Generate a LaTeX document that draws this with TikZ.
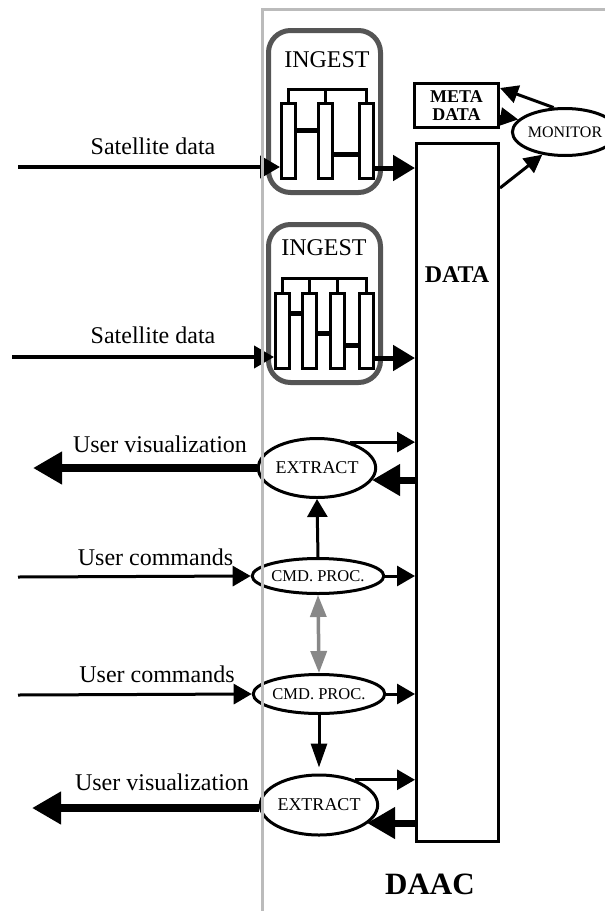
\documentclass[tikz,border=0pt]{standalone}
\usepackage{fontspec}
\setmainfont{Liberation Serif}
\usetikzlibrary{arrows.meta,shapes.geometric}
\definecolor{framegray}{HTML}{BBBBBB}
\definecolor{ingestgray}{HTML}{555555}
\definecolor{linkgray}{HTML}{888888}
\tikzset{
  ingestbox/.style={draw=ingestgray, line width=5pt, rounded corners=22pt, minimum width=112pt, inner sep=0pt},
  bar/.style={draw, line width=3pt, fill=white, minimum width=14pt, minimum height=75pt, inner sep=0pt},
  brk/.style={line width=3pt},
  cnx/.style={line width=5pt},
  bigtxt/.style={font=\fontsize{24}{28}\selectfont, inner sep=0pt, anchor=base},
  proc/.style={draw, ellipse, line width=3pt, inner sep=0pt},
  satarrow/.style={line width=4pt, -{Triangle[length=20pt,width=22pt]}},
  outarrow/.style={line width=5pt, -{Triangle[length=22pt,width=25pt]}},
  thinarrow/.style={line width=3pt, -{Triangle[length=18pt,width=20pt]}},
  backarrow/.style={line width=7pt, -{Triangle[length=28pt,width=30pt]}},
  vizarrow/.style={line width=8pt, -{Triangle[length=29pt,width=31pt]}},
  monarrow/.style={line width=3pt, -{Triangle[length=18pt,width=18pt]}},
  grayarrow/.style={draw=linkgray, line width=3.5pt, {Triangle[length=22pt,width=16pt]}-{Triangle[length=22pt,width=16pt]}},
}
\begin{document}
\begin{tikzpicture}[x=1pt,y=-1pt]
\useasboundingbox (0,0) rectangle (605,911);

% ---------- INGEST 1 ----------
\node[ingestbox, minimum height=162pt] (ing1) at (324.5,111.5) {};
\node[bigtxt] (ing1t) at (327,67) {INGEST};
\node[bar] (a1) at (288.5,141) {};
\node[bar] (a2) at (325.5,141) {};
\node[bar] (a3) at (366.5,141) {};
\draw[brk] (a1.north) -- (a1.north |- 0,89) -- (a3.north |- 0,89) -- (a3.north);
\draw[brk] (a2.north) -- (a2.north |- 0,89);
\draw[cnx] (a1.east |- 0,130) -- (a2.west |- 0,130);
\draw[cnx] (a2.east |- 0,154) -- (a3.west |- 0,154);

% ---------- INGEST 2 ----------
\node[ingestbox, minimum height=158pt] (ing2) at (324.5,303.5) {};
\node[bigtxt] (ing2t) at (324,255) {INGEST};
\node[bar] (b1) at (282.5,331) {};
\node[bar] (b2) at (309.5,331) {};
\node[bar] (b3) at (337.5,331) {};
\node[bar] (b4) at (366.5,331) {};
\draw[brk] (b1.north) -- (b1.north |- 0,278) -- (b4.north |- 0,278) -- (b4.north);
\draw[brk] (b2.north) -- (b2.north |- 0,278);
\draw[brk] (b3.north) -- (b3.north |- 0,278);
\draw[cnx] (b1.east |- 0,313) -- (b2.west |- 0,313);
\draw[cnx] (b2.east |- 0,333) -- (b3.west |- 0,333);
\draw[cnx] (b3.east |- 0,345) -- (b4.west |- 0,345);

% ---------- DATA / META / MONITOR ----------
\node[draw, line width=3pt, minimum width=82pt, minimum height=698pt, inner sep=0pt] (data) at (457.5,492.5) {};
\node[bigtxt, font=\fontsize{24}{28}\selectfont\bfseries] (datat) at (457,282) {DATA};
\node[draw, line width=3pt, minimum width=84pt, minimum height=44pt, inner sep=0pt, align=center,
      font=\fontsize{18}{18}\selectfont\bfseries] (meta) at (456.5,105.5) {META\\DATA};
\node[proc, minimum width=75pt, minimum height=47pt, font=\fontsize{16}{16}\selectfont] (mon) at (565,132) {MONITOR};
\draw[monarrow] (mon.115) -- ([yshift=-6pt]meta.north east);
\draw[monarrow] ([yshift=-11pt]meta.east) -- (mon.165);
\draw[monarrow] ([yshift=-46pt]data.north east) -- (mon.225);

% ---------- processes ----------
\node[proc, minimum width=97pt, minimum height=59pt, font=\fontsize{18}{18}\selectfont] (ext1) at (317,468) {EXTRACT};
\node[proc, minimum width=97pt, minimum height=35pt, font=\fontsize{16.5}{16.5}\selectfont] (cmd1) at (318,576) {CMD. PROC.};
\node[proc, minimum width=99pt, minimum height=39pt, font=\fontsize{16.5}{16.5}\selectfont] (cmd2) at (319,694) {CMD. PROC.};
\node[proc, minimum width=98pt, minimum height=60pt, font=\fontsize{18}{18}\selectfont] (ext2) at (319,805) {EXTRACT};

% ---------- outer labels ----------
\node[bigtxt] (sat1t) at (153,154) {Satellite data};
\node[bigtxt] (sat2t) at (153,343) {Satellite data};
\node[bigtxt] (viz1t) at (160,452) {User visualization};
\node[bigtxt] (cmd1t) at (155.5,565) {User commands};
\node[bigtxt] (cmd2t) at (157,682) {User commands};
\node[bigtxt] (viz2t) at (162,790) {User visualization};
\node[bigtxt, font=\fontsize{31}{34}\selectfont\bfseries] (daac) at (430,894) {DAAC};

% ---------- free ends ----------
\coordinate (s1) at (18,167);
\coordinate (s2) at (12,357);
\coordinate (v1) at (33,468);
\coordinate (u1) at (18,577);
\coordinate (u2) at (18,695);
\coordinate (v2) at (32,808);

% ---------- connectors ----------
\draw[satarrow] (s1) -- (a1.west |- s1);
\draw[satarrow] (s2) -- (b1.west |- s2);
\draw[outarrow] (a3.east |- 0,168) -- (data.west |- 0,168);
\draw[outarrow] (b4.east |- 0,358) -- (data.west |- 0,358);

\draw[vizarrow] (ext1.west) -- (v1);
\draw[thinarrow] (ext1.38) -- (ext1.38 -| data.west);
\draw[backarrow] (data.west |- 0,480) -- (372,480);
\draw[thinarrow] (cmd1.north) -- (ext1.south);

\draw[thinarrow] (u1) -- (cmd1.west);
\draw[thinarrow] (cmd1.east) -- (cmd1.east -| data.west);
\draw[grayarrow] (cmd1.south) -- (cmd2.north);
\draw[thinarrow] (u2) -- (cmd2.west);
\draw[thinarrow] (cmd2.east) -- (cmd2.east -| data.west);
\draw[line width=3pt, -{Triangle[length=24pt,width=16pt]}] (cmd2.south) -- ([yshift=6pt]ext2.north);

\draw[vizarrow] ([yshift=-3pt]ext2.west) -- (v2);
\draw[thinarrow] (ext2.35) -- (ext2.35 -| data.west);
\draw[backarrow] (data.west |- 0,823) -- (367,823);

% ---------- DAAC frame (drawn on top) ----------
\draw[draw=framegray, line width=3pt] (262,911) -- (262,9) -- (605,9);
\end{tikzpicture}
\end{document}
